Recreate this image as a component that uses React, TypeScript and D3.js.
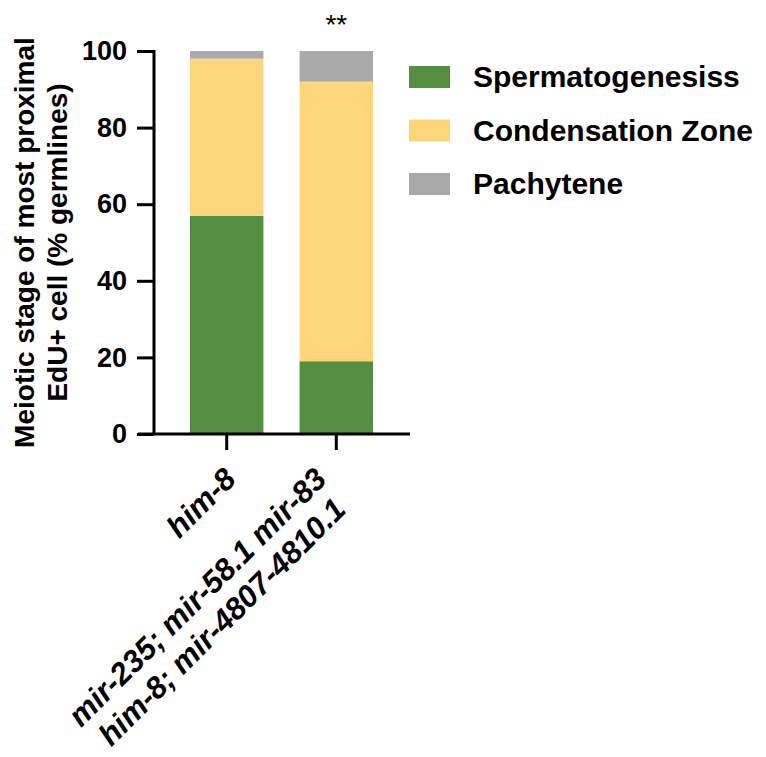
import { useRef, useEffect } from 'react';
import * as d3 from 'd3';

const categories = ['him-8', 'mutant'];
const categoryLines = [['him-8'], ['mir-235; mir-58.1 mir-83', 'him-8; mir-4807-4810.1']];
const seriesNames = ['Spermatogenesiss', 'Condensation Zone', 'Pachytene'];
const spermatogenesis = [57, 19];
const condensation = [41, 73];
const pachytene = [2, 8];
const yTicks = [0, 20, 40, 60, 80, 100];
const colors = ['#548f41', '#fdd57b', '#aaaaaa'];
const FONT = 'Liberation Sans, Arial, sans-serif';

const W = 766;
const H = 757;
// end of first label line relative to its tick
const labelOffsets = [[11, 47], [-8, 47]];

export default function App() {
  const svgRef = useRef<SVGSVGElement>(null);

  useEffect(() => {
    const svg = svgRef.current;
    if (!svg) return;
    const root = d3.select(svg);
    root.selectAll('*').remove();

    const x = d3.scaleBand().domain(categories).range([190, 373]).paddingInner(0.33).paddingOuter(0);
    const y = d3.scaleLinear().domain([0, 100]).range([434, 51]);

    const rows = categories.map((c, i) => ({
      cat: c,
      s0: spermatogenesis[i],
      s1: condensation[i],
      s2: pachytene[i],
    }));
    const stack = d3.stack<any>().keys(['s0', 's1', 's2'])(rows);

    stack.forEach((layer, li) => {
      root.append('g').selectAll('rect').data(layer).join('rect')
        .attr('x', d => x(d.data.cat)!)
        .attr('width', x.bandwidth())
        .attr('y', d => y(d[1]))
        .attr('height', d => y(d[0]) - y(d[1]))
        .attr('fill', colors[li]);
    });

    // y axis
    const yG = root.append('g').attr('transform', 'translate(154,0)')
      .call(d3.axisLeft(y).tickValues(yTicks).tickSize(17).tickPadding(10));
    yG.select('.domain').attr('stroke', '#000').attr('stroke-width', 3).attr('d', `M0,${y(100) - 1}V${y(0)}`);
    yG.selectAll('line').attr('stroke', '#000').attr('stroke-width', 3);
    yG.selectAll('text').attr('font-family', FONT).attr('font-weight', 'bold').attr('font-size', 27).attr('fill', '#000');

    // x axis
    const xG = root.append('g').attr('transform', `translate(0,${y(0)})`)
      .call(d3.axisBottom(x).tickSize(16).tickFormat(() => ''));
    xG.select('.domain').attr('stroke', '#000').attr('stroke-width', 3).attr('d', 'M138,0H410');
    xG.selectAll('line').attr('stroke', '#000').attr('stroke-width', 3);

    // x labels rotated, lines centred within a right-aligned block
    categories.forEach((c, i) => {
      const cx = x(c)! + x.bandwidth() / 2;
      const [ox, oy] = labelOffsets[i];
      const t = root.append('text')
        .attr('transform', `translate(${cx + ox},${y(0) + oy}) rotate(-45)`)
        .attr('text-anchor', 'middle')
        .attr('font-family', FONT).attr('font-weight', 'bold').attr('font-style', 'italic')
        .attr('font-size', 31).attr('fill', '#000');
      const spans = categoryLines[i].map((ln, j) =>
        t.append('tspan').attr('x', 0).attr('y', j * 35).text(ln));
      const maxLen = d3.max(spans, s => (s.node() as SVGTSpanElement).getComputedTextLength()) || 0;
      spans.forEach(s => s.attr('x', -maxLen / 2));
    });

    // y title
    const yt = root.append('text')
      .attr('transform', `translate(34,${(y(0) + y(100)) / 2}) rotate(-90)`)
      .attr('text-anchor', 'middle')
      .attr('font-family', FONT).attr('font-weight', 'bold').attr('font-size', 28).attr('fill', '#000');
    yt.append('tspan').attr('x', 0).attr('y', 0).text('Meiotic stage of most proximal');
    yt.append('tspan').attr('x', 0).attr('y', 33).text('EdU+ cell (% germlines)');

    // significance
    root.append('text')
      .attr('x', x(categories[1])! + x.bandwidth() / 2).attr('y', 34)
      .attr('text-anchor', 'middle')
      .attr('font-family', FONT).attr('font-size', 28).attr('fill', '#000')
      .text('**');

    // legend
    const lg = root.append('g');
    seriesNames.forEach((name, i) => {
      const ly = 66 + i * 53.5;
      lg.append('rect').attr('x', 409).attr('y', ly).attr('width', 41).attr('height', 22).attr('fill', colors[i]);
      lg.append('text').attr('x', 473).attr('y', ly + 21)
        .attr('font-family', FONT).attr('font-weight', 'bold').attr('font-size', 30).attr('fill', '#000')
        .text(name);
    });
  }, []);

  return <svg ref={svgRef} width={W} height={H} style={{ display: 'block', margin: -8, background: '#fff' }} />;
}
